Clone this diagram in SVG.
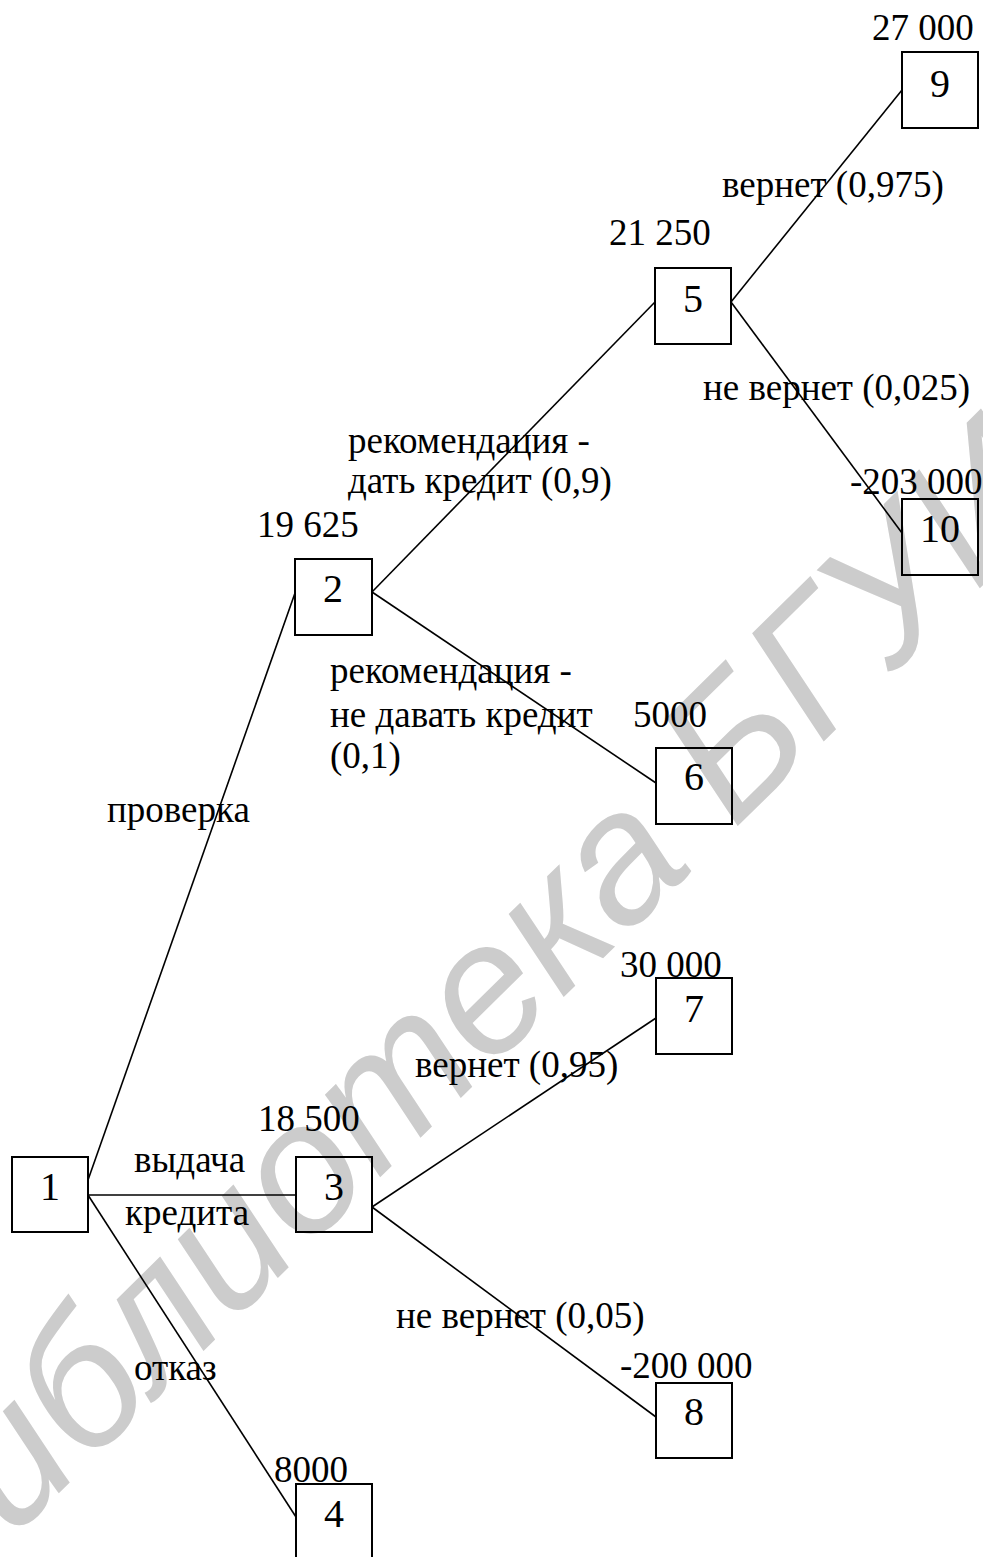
<svg xmlns="http://www.w3.org/2000/svg" width="983" height="1557" viewBox="0 0 983 1557">
<style>
.box{fill:none;stroke:#000;stroke-width:2}
.num{font-family:"Liberation Serif",serif;font-size:40px;fill:#000;text-anchor:middle}
.lbl{font-family:"Liberation Serif",serif;font-size:37px;fill:#000}
.edge{stroke:#000;stroke-width:1.6;fill:none}
.wm{font-family:"Liberation Sans",Arial,sans-serif;font-style:italic;font-size:185px;fill:#cccccc}
</style>
<rect x="0" y="0" width="983" height="1557" fill="#fff"/>
<text class="wm" transform="translate(-62,1612) rotate(-44.5)">библиотека БГУИР</text>
<g id="connectors">
<line class="edge" x1="88" y1="1180" x2="295" y2="593"/>
<line class="edge" x1="88" y1="1195" x2="296" y2="1195"/>
<line class="edge" x1="88" y1="1195" x2="296" y2="1517"/>
<line class="edge" x1="372" y1="592" x2="655" y2="302"/>
<line class="edge" x1="372" y1="592" x2="656" y2="783"/>
<line class="edge" x1="731" y1="302" x2="902" y2="90"/>
<line class="edge" x1="731" y1="302" x2="902" y2="533"/>
<line class="edge" x1="372" y1="1207" x2="656" y2="1018"/>
<line class="edge" x1="372" y1="1207" x2="656" y2="1417"/>
</g>
<g id="edge-labels">
<text class="lbl" x="722" y="197">вернет (0,975)</text>
<text class="lbl" x="703" y="400">не вернет (0,025)</text>
<text class="lbl" x="348" y="453">рекомендация -</text>
<text class="lbl" x="348" y="493">дать кредит (0,9)</text>
<text class="lbl" x="330" y="683">рекомендация -</text>
<text class="lbl" x="330" y="727">не давать кредит</text>
<text class="lbl" x="330" y="768">(0,1)</text>
<text class="lbl" x="107" y="822">проверка</text>
<text class="lbl" x="415" y="1077">вернет (0,95)</text>
<text class="lbl" x="134" y="1172">выдача</text>
<text class="lbl" x="125" y="1225">кредита</text>
<text class="lbl" x="396" y="1328">не вернет (0,05)</text>
<text class="lbl" x="134" y="1380">отказ</text>
</g>
<g id="n1"><rect class="box" x="12" y="1157" width="76" height="75"/><text class="num" x="50" y="1200">1</text></g>
<g id="n2"><rect class="box" x="295" y="559" width="77" height="76"/><text class="num" x="333" y="602">2</text><text class="lbl" x="257" y="537">19 625</text></g>
<g id="n3"><rect class="box" x="296" y="1157" width="76" height="75"/><text class="num" x="334" y="1200">3</text><text class="lbl" x="258" y="1131">18 500</text></g>
<g id="n4"><rect class="box" x="296" y="1484" width="76" height="80"/><text class="num" x="334" y="1527">4</text><text class="lbl" x="274" y="1482">8000</text></g>
<g id="n5"><rect class="box" x="655" y="268" width="76" height="76"/><text class="num" x="693" y="312">5</text><text class="lbl" x="609" y="245">21 250</text></g>
<g id="n6"><rect class="box" x="656" y="748" width="76" height="76"/><text class="num" x="694" y="790">6</text><text class="lbl" x="633" y="727">5000</text></g>
<g id="n7"><rect class="box" x="656" y="978" width="76" height="76"/><text class="num" x="694" y="1022">7</text><text class="lbl" x="620" y="977">30 000</text></g>
<g id="n8"><rect class="box" x="656" y="1383" width="76" height="75"/><text class="num" x="694" y="1425">8</text><text class="lbl" x="620" y="1378">-200 000</text></g>
<g id="n9"><rect class="box" x="902" y="52" width="76" height="76"/><text class="num" x="940" y="97">9</text><text class="lbl" x="872" y="40">27 000</text></g>
<g id="n10"><rect class="box" x="902" y="499" width="76" height="76"/><text class="num" x="940" y="542">10</text><text class="lbl" x="850" y="494">-203 000</text></g>
</svg>
